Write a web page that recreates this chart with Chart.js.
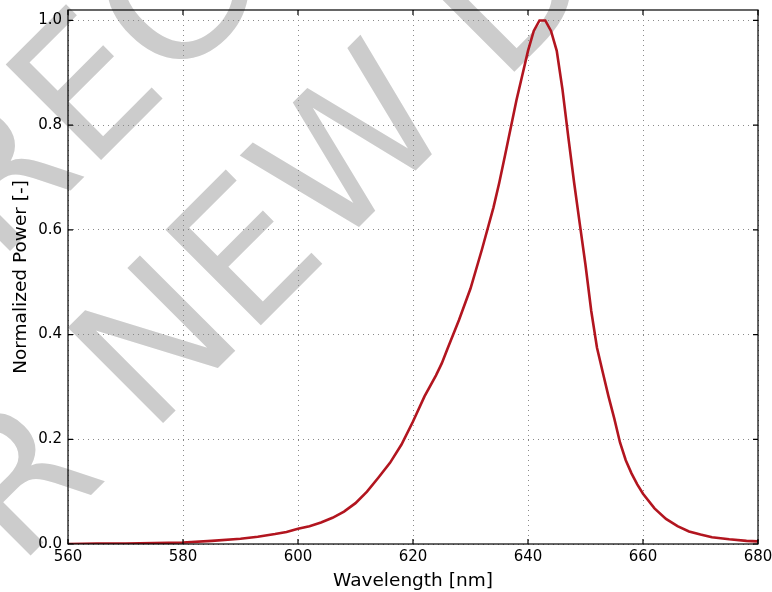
<!DOCTYPE html>
<html>
<head>
<meta charset="utf-8">
<script src="https://cdn.jsdelivr.net/npm/chart.js@4.4.1/dist/chart.umd.min.js"></script>
<style>
    html, body { margin: 0; padding: 0; background: #fff; }
    canvas { display: block; }
</style>
</head>
<body>
<canvas id="spectrum" width="772" height="592"></canvas>
<script>
// ---------- DATA ----------
const wavelengths = [
    560, 565, 570, 575, 580, 585, 590, 593, 596, 598,
    600, 602, 604, 606, 608, 610, 612, 614, 616, 618,
    620, 622, 624, 625, 626, 628, 630, 632, 634, 635,
    636, 637, 638, 639, 640, 641, 642, 643, 644, 645,
    646, 647, 648, 649, 650, 651, 652, 653, 654, 655,
    656, 657, 658, 659, 660, 662, 664, 666, 668, 670,
    672, 675, 678, 680
];
const power = [
    0.000, 0.001, 0.001, 0.002, 0.003, 0.006, 0.010, 0.014, 0.019, 0.023,
    0.029, 0.034, 0.041, 0.050, 0.062, 0.078, 0.100, 0.127, 0.155, 0.190,
    0.234, 0.282, 0.322, 0.345, 0.373, 0.428, 0.488, 0.563, 0.643, 0.690,
    0.742, 0.795, 0.848, 0.895, 0.942, 0.980, 1.000, 1.000, 0.980, 0.942,
    0.868, 0.778, 0.692, 0.612, 0.533, 0.445, 0.375, 0.328, 0.282, 0.240,
    0.194, 0.160, 0.135, 0.114, 0.096, 0.068, 0.048, 0.034, 0.024, 0.018,
    0.013, 0.009, 0.006, 0.005
];
const xTicks = [560, 580, 600, 620, 640, 660, 680];
const yTicks = [0, 0.2, 0.4, 0.6, 0.8, 1.0];
const xLabel = "Wavelength [nm]";
const yLabel = "Normalized Power [-]";
const watermarkLines = ["NOT RECOMMENDED", "FOR NEW DESIGNS"];

const FONT = "DejaVu Sans";

// ---------- WATERMARK (drawn under the grid) ----------
const watermark = {
    id: "watermark",
    beforeDraw(chart) {
        const ctx = chart.ctx;
        const size = 185;
        ctx.save();
        ctx.fillStyle = "#fff";
        ctx.fillRect(0, 0, chart.width, chart.height);
        ctx.font = size + "px '" + FONT + "'";
        ctx.fillStyle = "#cccccc";
        const ang = -Math.PI / 4;
        const ux = Math.cos(ang), uy = Math.sin(ang);
        const lsb = 0.098 * size;
        // visible glyph corner in each line: prefix before it + where it sits
        const anchors = [
            [watermarkLines[0], "NOT R", 101, 160],
            [watermarkLines[1], "FOR ", 163, 423]
        ];
        anchors.forEach(([txt, pre, ax, ay]) => {
            const d = ctx.measureText(pre).width + lsb;
            ctx.save();
            ctx.translate(ax - ux * d, ay - uy * d);
            ctx.rotate(ang);
            ctx.fillText(txt, 0, 0);
            ctx.restore();
        });
        ctx.restore();
    }
};

// ---------- FRAME + INWARD TICKS ----------
const frame = {
    id: "frame",
    afterDraw(chart) {
        const { ctx, chartArea: a, scales: { x, y } } = chart;
        ctx.save();
        ctx.strokeStyle = "#000";
        ctx.lineWidth = 1.2;
        ctx.strokeRect(a.left, a.top, a.right - a.left, a.bottom - a.top);
        ctx.beginPath();
        xTicks.forEach(v => {
            const px = x.getPixelForValue(v);
            ctx.moveTo(px, a.bottom); ctx.lineTo(px, a.bottom - 5);
            ctx.moveTo(px, a.top); ctx.lineTo(px, a.top + 5);
        });
        yTicks.forEach(v => {
            const py = y.getPixelForValue(v);
            ctx.moveTo(a.left, py); ctx.lineTo(a.left + 5, py);
            ctx.moveTo(a.right, py); ctx.lineTo(a.right - 5, py);
        });
        ctx.stroke();
        ctx.restore();
    }
};

const gridOpts = { color: "#8a8a8a", lineWidth: 1, drawTicks: false };
const borderOpts = { display: false, dash: [1, 4] };

new Chart(document.getElementById("spectrum"), {
    type: "line",
    data: {
        datasets: [{
            data: wavelengths.map((w, i) => ({ x: w, y: power[i] })),
            borderColor: "#b2151f",
            borderWidth: 2.6,
            pointRadius: 0,
            tension: 0,
            fill: false
        }]
    },
    options: {
        responsive: false,
        animation: false,
        devicePixelRatio: 1,
        layout: { padding: { top: 10, right: 14, left: 0, bottom: 0 } },
        plugins: { legend: { display: false }, tooltip: { enabled: false } },
        scales: {
            x: {
                type: "linear",
                min: 560,
                max: 680,
                afterBuildTicks: s => { s.ticks = xTicks.map(v => ({ value: v })); },
                afterFit: s => { s.height = 48; s.paddingLeft = 0; s.paddingRight = 0; },
                grid: gridOpts,
                border: borderOpts,
                ticks: {
                    padding: 4, color: "#000", maxRotation: 0, autoSkip: false,
                    font: { family: FONT, size: 15 }
                },
                title: {
                    display: true, text: xLabel, color: "#000",
                    font: { family: FONT, size: 18.5 },
                    padding: { top: 0, bottom: 0 }
                }
            },
            y: {
                type: "linear",
                min: 0,
                max: 1.02,
                afterBuildTicks: s => { s.ticks = yTicks.map(v => ({ value: v })); },
                afterFit: s => { s.width = 68; s.paddingTop = 0; s.paddingBottom = 0; },
                grid: gridOpts,
                border: borderOpts,
                ticks: {
                    padding: 6, color: "#000",
                    font: { family: FONT, size: 15 },
                    callback: v => v.toFixed(1)
                },
                title: {
                    display: true, text: yLabel, color: "#000",
                    font: { family: FONT, size: 18.5 },
                    padding: { top: 10, bottom: 0 }
                }
            }
        }
    },
    plugins: [watermark, frame]
});
</script>
</body>
</html>
